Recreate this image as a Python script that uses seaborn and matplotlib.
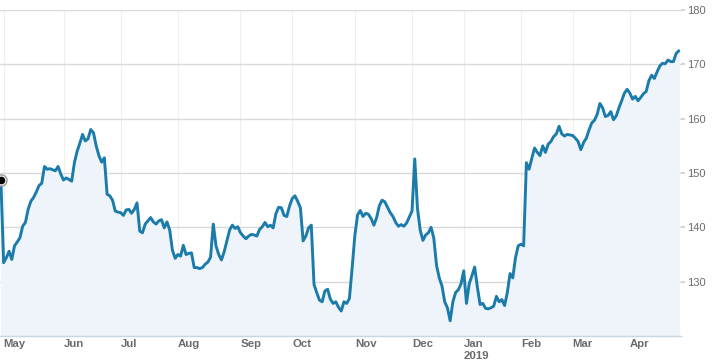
import numpy as np
import pandas as pd
import seaborn as sns
import matplotlib
matplotlib.use("Agg")
import matplotlib.pyplot as plt
import matplotlib.transforms as mtransforms

# trading days Apr 30 2018 -> Apr 26 2019 (NYSE holidays removed)
holidays = ["2018-05-28", "2018-07-04", "2018-09-03", "2018-11-22", "2018-12-05",
            "2018-12-25", "2019-01-01", "2019-01-21", "2019-02-18", "2019-04-19"]
dates = pd.bdate_range("2018-04-30", "2019-04-26", freq="C", holidays=holidays)

# closing prices, one per trading day
prices = [
    148.7, 133.5, 134.4, 135.6, 134.1, 136.6, 137.3, 138.1, 140.2, 140.9,
    143.3, 144.8, 145.5, 146.5, 147.7, 148.1, 151.2, 150.7, 150.8, 150.6,
    150.4, 151.2, 149.8, 148.7, 149.1, 148.8, 148.5, 151.9, 154.0, 155.5,
    157.1, 155.9, 156.3, 158.0, 157.4, 155.0, 153.2, 152.0, 152.8, 146.1,
    145.8, 145.0, 143.0, 142.8, 142.7, 142.2, 143.2, 143.3, 142.6, 143.3,
    144.5, 139.3, 139.0, 140.6, 141.2, 141.8, 141.0, 140.6, 141.2, 141.4,
    139.9, 141.0, 139.5, 135.8, 134.3, 135.0, 134.7, 136.7, 135.0, 135.2,
    135.3, 132.6, 132.6, 132.4, 132.6, 133.2, 133.6, 134.5, 140.6, 136.6,
    135.0, 134.0, 135.5, 137.5, 139.5, 140.4, 139.8, 140.1, 139.0, 138.4,
    137.9, 138.4, 138.7, 138.6, 138.4, 139.6, 140.1, 140.9, 140.1, 140.4,
    139.9, 142.5, 143.7, 143.6, 142.2, 142.0, 143.9, 145.3, 145.8, 144.8,
    143.6, 137.5, 138.4, 139.9, 140.4, 129.5, 128.0, 126.6, 126.3, 128.3,
    128.6, 126.8, 126.0, 126.3, 125.3, 124.6, 126.3, 126.0, 126.9, 132.5,
    138.5, 142.3, 143.1, 142.0, 142.6, 142.4, 141.6, 140.4, 141.8, 144.0,
    145.0, 144.7, 143.7, 142.7, 142.0, 140.9, 140.2, 140.5, 140.2, 140.8,
    141.9, 143.0, 152.6, 143.5, 139.5, 137.6, 138.6, 139.0, 140.0, 138.0,
    133.0, 130.7, 129.2, 126.3, 125.2, 122.8, 126.3, 128.0, 128.5, 129.6,
    132.0, 126.0, 129.6, 131.1, 132.7, 129.0, 125.8, 126.0, 125.1, 125.0,
    125.2, 125.5, 127.3, 126.3, 126.7, 125.6, 128.0, 131.5, 130.7, 134.4,
    136.6, 136.9, 136.6, 151.9, 150.7, 152.7, 154.6, 153.8, 153.2, 155.0,
    153.8, 155.3, 155.8, 156.7, 157.2, 158.6, 157.2, 156.8, 157.1, 157.0,
    156.9, 156.4, 155.8, 154.3, 155.6, 156.4, 157.9, 159.2, 159.7, 160.8,
    162.8, 162.0, 160.4, 160.6, 161.3, 159.8, 160.5, 162.0, 163.3, 164.7,
    165.4, 164.7, 163.6, 164.1, 163.3, 163.9, 164.6, 165.0, 167.0, 168.0,
    167.4, 168.6, 169.7, 170.2, 170.1, 170.8, 170.5, 170.5, 172.0, 172.5,
]
y_ticks = [130, 140, 150, 160, 170, 180]

df = pd.DataFrame({"date": dates[:len(prices)], "price": prices})
df["pos"] = np.arange(len(df))

sns.set_theme(style="white")
plt.rcParams["font.family"] = ["Liberation Sans", "DejaVu Sans"]

fig = plt.figure(figsize=(7.12, 3.64), dpi=100)
ax = fig.add_axes([0.0, 0.0769, 0.9565, 0.8956])

line_c = "#1b7bab"
ax.fill_between(df["pos"], df["price"], 120, color="#eef4f9", zorder=1)
sns.lineplot(data=df, x="pos", y="price", color=line_c, linewidth=2.1, ax=ax, zorder=3)

# start marker
ax.plot(df["pos"].iloc[0], df["price"].iloc[0], marker="o", ms=8, mfc="white",
        mec="#999999", mew=1.0, zorder=4, clip_on=False)
ax.plot(df["pos"].iloc[0], df["price"].iloc[0], marker="o", ms=4.5, mfc="black",
        mec="black", zorder=5, clip_on=False)

ax.set_xlim(-0.33, 249.8)
ax.set_ylim(120, 180)

# month ticks at first trading day of each month
first = df.groupby([df["date"].dt.year, df["date"].dt.month])["pos"].min().values
month_pos = [p for p in first if p > 0]
labels = [df["date"].iloc[p].strftime("%b") for p in month_pos]
labels = [l + "\n2019" if l == "Jan" else l for l in labels]
ax.set_xticks(month_pos)
ax.set_xticklabels(labels, ha="left", va="top", fontsize=8.2,
                   color="#6b6b6b", fontweight="bold")
offset = mtransforms.ScaledTranslation(4 / 72, 0, fig.dpi_scale_trans)
for t in ax.get_xticklabels():
    t.set_transform(t.get_transform() + offset)
    t.set_linespacing(1.2)

ax.set_yticks(y_ticks)
ax.yaxis.tick_right()
ax.tick_params(axis="y", length=3, color="#cfcfcf", labelsize=8, labelcolor="#6b6b6b", pad=1.5)
ax.tick_params(axis="x", length=8, width=0.8, color="#ececec", pad=-5.8, direction="out")

ax.grid(axis="y", color="#d9d9d9", linewidth=1.0, zorder=0)
ax.grid(axis="x", color="#efefef", linewidth=0.8, zorder=0)
ax.set_axisbelow(True)

for s in ["top", "left", "right"]:
    ax.spines[s].set_visible(False)
ax.spines["bottom"].set_color("#c9d6e2")
ax.spines["bottom"].set_linewidth(1.0)

ax.set_xlabel("")
ax.set_ylabel("")

fig.savefig("out.png", dpi=100)
